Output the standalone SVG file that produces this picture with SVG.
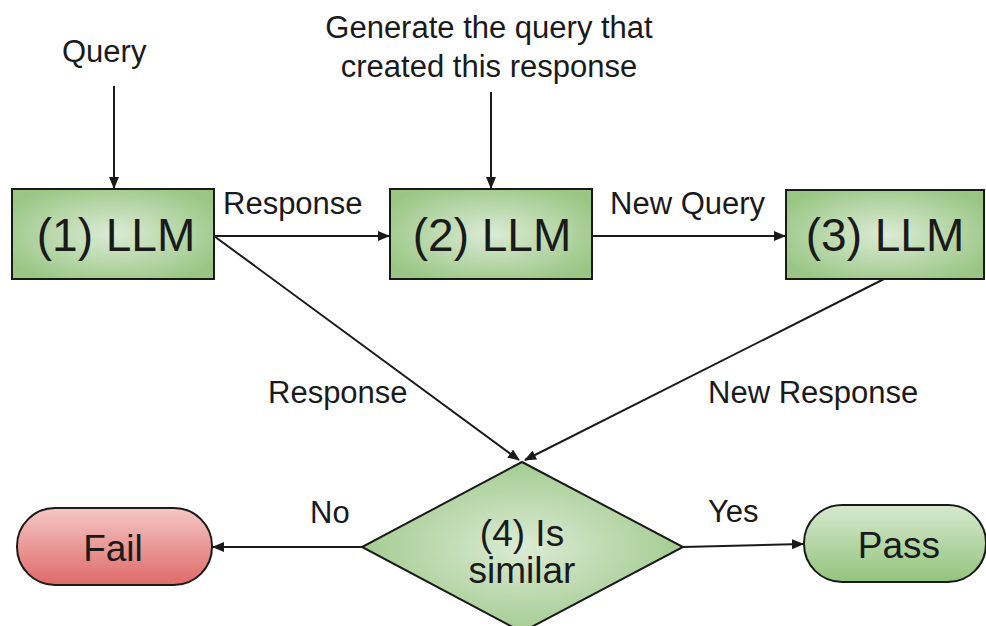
<svg xmlns="http://www.w3.org/2000/svg" width="986" height="626" viewBox="0 0 986 626">
<style>
  text { font-family: "Liberation Sans", Arial, sans-serif; fill: #1a1a1a; }
  .lbl { font-size: 31px; }
  .node { font-size: 46px; text-anchor: middle; }
  .mid { font-size: 37px; text-anchor: middle; }
  .shape { stroke: #1a1a1a; stroke-width: 2; }
  .conn line { stroke: #1a1a1a; stroke-width: 2; fill: none; marker-end: url(#arr); }
</style>
<defs>
  <radialGradient id="gg" cx="50%" cy="50%" r="60%">
    <stop offset="0" stop-color="#dcebd5"/>
    <stop offset="1" stop-color="#99c684"/>
  </radialGradient>
  <linearGradient id="gp" x1="0" y1="0" x2="0" y2="1">
    <stop offset="0" stop-color="#d6e9cf"/>
    <stop offset="1" stop-color="#93c47d"/>
  </linearGradient>
  <linearGradient id="gf" x1="0" y1="0" x2="0" y2="1">
    <stop offset="0" stop-color="#f4c7c5"/>
    <stop offset="1" stop-color="#df6a68"/>
  </linearGradient>
  <marker id="arr" viewBox="0 0 12 10" refX="11" refY="5" markerWidth="12" markerHeight="10" markerUnits="userSpaceOnUse" orient="auto">
    <path d="M0,0 L12,5 L0,10 Z" fill="#1a1a1a"/>
  </marker>
</defs>
<rect width="986" height="626" fill="#ffffff"/>

<g id="connectors" class="conn">
  <line x1="114" y1="86" x2="114" y2="188"/>
  <line x1="491" y1="92" x2="491" y2="188"/>
  <line x1="214" y1="236" x2="389" y2="236"/>
  <line x1="592" y1="236" x2="785" y2="236"/>
  <line x1="214" y1="236" x2="519" y2="460"/>
  <line x1="884" y1="279" x2="525" y2="460"/>
  <line x1="362" y1="547" x2="213" y2="547"/>
  <line x1="683" y1="547" x2="803" y2="544"/>
</g>

<g id="labels">
  <text class="lbl" x="62" y="62">Query</text>
  <text class="lbl" x="489" y="38" text-anchor="middle">Generate the query that</text>
  <text class="lbl" x="489" y="77" text-anchor="middle">created this response</text>
  <text class="lbl" x="223" y="214">Response</text>
  <text class="lbl" x="610" y="214">New Query</text>
  <text class="lbl" x="268" y="403">Response</text>
  <text class="lbl" x="708" y="403">New Response</text>
  <text class="lbl" x="310" y="523">No</text>
  <text class="lbl" x="708" y="522">Yes</text>
</g>

<g id="llm1">
  <rect class="shape" x="12" y="189" width="202" height="90" fill="url(#gg)"/>
  <text class="node" x="116" y="251">(1) LLM</text>
</g>
<g id="llm2">
  <rect class="shape" x="390" y="189" width="202" height="90" fill="url(#gg)"/>
  <text class="node" x="492" y="251">(2) LLM</text>
</g>
<g id="llm3">
  <rect class="shape" x="786" y="190" width="198" height="89" fill="url(#gg)"/>
  <text class="node" x="885" y="251">(3) LLM</text>
</g>
<g id="similar">
  <polygon class="shape" points="522,462 683,547 522,632 362,547" fill="url(#gg)"/>
  <text class="mid" x="522" y="546" font-size="36">(4) Is</text>
  <text class="mid" x="522" y="583" font-size="36">similar</text>
</g>
<g id="fail">
  <rect class="shape" x="17" y="508" width="195" height="77" rx="38" ry="38" fill="url(#gf)"/>
  <text class="mid" x="113" y="561">Fail</text>
</g>
<g id="pass">
  <rect class="shape" x="804" y="505" width="182" height="77" rx="38" ry="38" fill="url(#gp)"/>
  <text class="mid" x="899" y="558">Pass</text>
</g>
</svg>
